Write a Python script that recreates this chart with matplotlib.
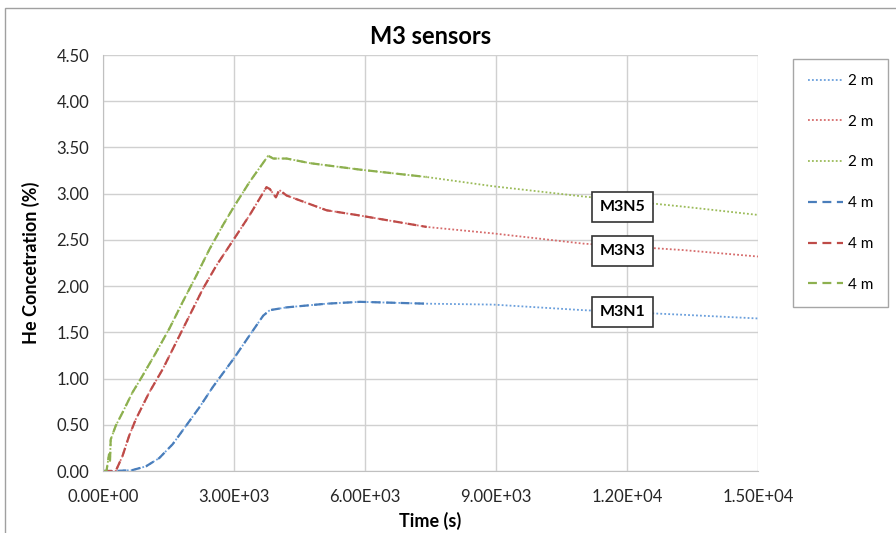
import numpy as np
import matplotlib.pyplot as plt
from matplotlib.patches import Rectangle

plt.rcParams['font.family'] = ['Lato', 'DejaVu Sans']

# time (s) and He concentration (%)
t_n1 = [0, 300, 675, 982, 1289, 1596, 1903, 2210, 2517, 3000, 3361, 3668, 3821,
        4205, 5122, 5886, 7413, 8938, 10992, 13283, 15000]
c_n1 = [0.00, 0.00, 0.01, 0.05, 0.14, 0.29, 0.49, 0.69, 0.91, 1.22, 1.47, 1.68, 1.74,
        1.77, 1.81, 1.83, 1.81, 1.80, 1.74, 1.69, 1.65]

t_n3 = [0, 292, 445, 598, 752, 1059, 1366, 1673, 1980, 2287, 2593, 3000, 3361, 3744, 3821,
        3959, 4036, 4205, 5122, 5800, 7413, 8938, 10992, 13283, 15000]
c_n3 = [0.00, 0.00, 0.16, 0.38, 0.56, 0.85, 1.10, 1.39, 1.68, 1.97, 2.22, 2.51, 2.77, 3.07, 3.05,
        2.96, 3.04, 2.98, 2.82, 2.77, 2.64, 2.57, 2.46, 2.39, 2.32]

t_n5 = [0, 80, 138, 160, 176, 292, 445, 675, 905, 1212, 1519, 1826, 2133, 2440, 2747, 3000,
        3361, 3783, 3898, 4205, 4740, 5886, 7413, 8938, 10992, 13283, 15000]
c_n5 = [0.00, 0.00, 0.18, 0.10, 0.34, 0.49, 0.63, 0.85, 1.03, 1.28, 1.54, 1.83, 2.11, 2.40, 2.66, 2.86,
        3.13, 3.41, 3.38, 3.38, 3.33, 3.26, 3.18, 3.08, 2.97, 2.86, 2.77]

t_end_4m = 7420  # 4 m series stop here

labels = ['M3N1', 'M3N3', 'M3N5']
label_y = [1.72, 2.38, 2.86]
label_x = 11900

dot_colors = ['#6a9fdc', '#d66b6b', '#9bbb59']
dash_colors = ['#4a7ebb', '#be4b48', '#8db04f']

fig = plt.figure(figsize=(8.96, 5.33), dpi=100)
ax = fig.add_axes([103 / 896, 1 - 471 / 533, 655 / 896, 416 / 533])

series = [(t_n1, c_n1), (t_n3, c_n3), (t_n5, c_n5)]
handles = []
for (t, c), col in zip(series, dot_colors):
    h, = ax.plot(t, c, color=col, lw=1.3, linestyle=(0, (1, 1.2)), label='2 m')
    handles.append(h)
for (t, c), col in zip(series, dash_colors):
    t = np.array(t)
    c = np.array(c)
    keep = t <= t_end_4m
    h, = ax.plot(t[keep], c[keep], color=col, lw=1.6, linestyle=(0, (4, 2.5)), label='4 m')
    handles.append(h)

ax.set_xlim(0, 15000)
ax.set_ylim(0, 4.5)
ax.set_xticks(np.arange(0, 15001, 3000))
ax.set_xticklabels(['0.00E+00', '3.00E+03', '6.00E+03', '9.00E+03', '1.20E+04', '1.50E+04'])
ax.set_yticks(np.arange(0, 4.51, 0.5))
ax.set_yticklabels(['%.2f' % v for v in np.arange(0, 4.51, 0.5)])
ax.tick_params(labelsize=12, length=0, labelcolor='#262626')
ax.tick_params(axis='x', pad=13)
ax.tick_params(axis='y', pad=10)
ax.grid(True, color='#d0d0d0', lw=1)
ax.set_axisbelow(True)
for s in ['top', 'right']:
    ax.spines[s].set_visible(False)
for s in ['left', 'bottom']:
    ax.spines[s].set_color('#c0c0c0')

ax.set_title('M3 sensors', fontsize=17, fontweight='bold', pad=8)
ax.set_xlabel('Time (s)', fontsize=13, fontweight='bold', labelpad=5)
ax.set_ylabel('He Concetration (%)', fontsize=13, fontweight='bold', labelpad=12)

for lab, yv in zip(labels, label_y):
    ax.text(label_x, yv, lab, fontsize=11.5, fontweight='bold', ha='center', va='center',
            bbox=dict(boxstyle='square,pad=0.5', fc='white', ec='#333333', lw=1.2))

leg = fig.legend(handles=handles, loc='upper left', bbox_to_anchor=(785 / 896, 1 - 51 / 533),
                 frameon=True, fontsize=11, handlelength=2.3, handletextpad=0.3,
                 labelspacing=1.75, borderpad=1.0, fancybox=False)
leg.get_frame().set_edgecolor('#909090')

# outer chart frame
fig.patches.append(Rectangle((5 / 896, -0.1), 1.2, 1.1 - 8 / 533, transform=fig.transFigure,
                             fill=False, ec='#a0a0a0', lw=1))

fig.savefig('out.png', dpi=100)
